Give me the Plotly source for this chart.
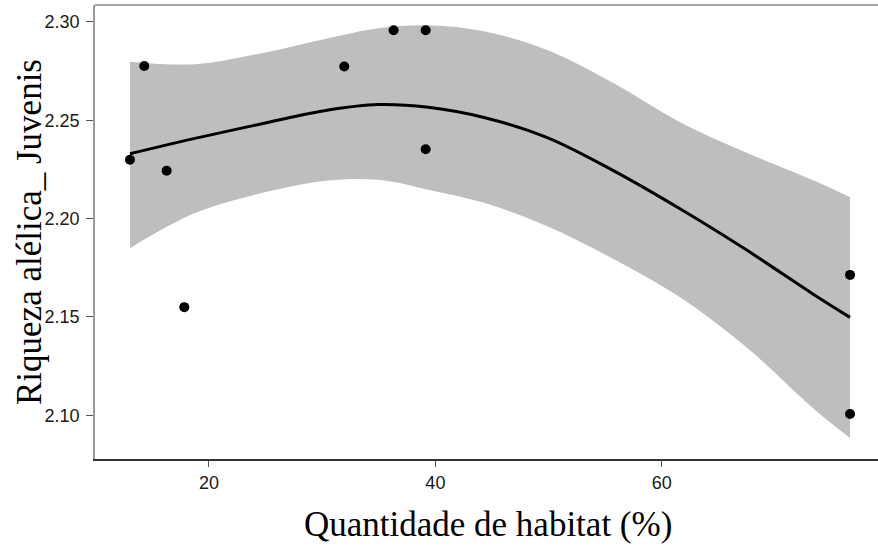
import plotly.graph_objects as go

# Observed points
habitat = [13.02, 14.28, 16.26, 17.82, 31.95, 36.31, 39.14, 39.14, 76.63, 76.63]
riqueza = [2.2299, 2.2776, 2.2244, 2.1550, 2.2773, 2.2958, 2.2958, 2.2353, 2.1714, 2.1007]

# Smoothed fit and confidence band
fit_x = [13.02, 18.76, 24.66, 30.54, 34.96, 39.37, 44.38, 49.83, 55.72, 61.61, 67.50, 73.38, 76.63]
fit_y = [2.2330, 2.2408, 2.2482, 2.2552, 2.2580, 2.2566, 2.2513, 2.2413, 2.2244, 2.2050, 2.1840, 2.1616, 2.1498]
band_upper = [2.2798, 2.2785, 2.2841, 2.2917, 2.2968, 2.2983, 2.2951, 2.2858, 2.2689, 2.2490, 2.2335, 2.2195, 2.2109]
band_lower = [2.1850, 2.2028, 2.2130, 2.2194, 2.2197, 2.2147, 2.2079, 2.1962, 2.1795, 2.1600, 2.1345, 2.1035, 2.0885]

y_ticks = [2.10, 2.15, 2.20, 2.25, 2.30]
x_ticks = [20, 40, 60]

x_title = "Quantidade de habitat (%)"
y_title = "Riqueza alélica_ Juvenis"

fig = go.Figure()

fig.add_trace(go.Scatter(x=fit_x, y=band_lower, mode="lines",
                         line=dict(width=0, shape="spline", color="rgba(0,0,0,0)"),
                         showlegend=False, hoverinfo="skip"))
fig.add_trace(go.Scatter(x=fit_x, y=band_upper, mode="lines",
                         line=dict(width=0, shape="spline", color="rgba(0,0,0,0)"),
                         fill="tonexty", fillcolor="rgb(190,190,190)",
                         showlegend=False, hoverinfo="skip"))
fig.add_trace(go.Scatter(x=fit_x, y=fit_y, mode="lines",
                         line=dict(width=3, shape="spline", color="black"),
                         showlegend=False))
fig.add_trace(go.Scatter(x=habitat, y=riqueza, mode="markers",
                         marker=dict(size=10, color="black"),
                         showlegend=False))

tick_font = dict(family="Liberation Sans, Arial, sans-serif", size=18, color="#1a1a1a")
title_font = dict(family="Liberation Serif, Times New Roman, serif", size=35, color="black")

fig.update_layout(
    width=878, height=546,
    margin=dict(l=95, r=0, t=5, b=87),
    paper_bgcolor="white", plot_bgcolor="white",
    xaxis=dict(range=[9.93, 79.10], tickvals=x_ticks, ticktext=[str(v) for v in x_ticks],
               showgrid=False, zeroline=False, showline=True, linecolor="#333333", linewidth=2,
               ticks="outside", ticklen=6, tickwidth=1.2, tickcolor="#555555",
               tickfont=tick_font, automargin=False),
    yaxis=dict(range=[2.0778, 2.3086], tickvals=y_ticks, ticktext=[f"{v:.2f}" for v in y_ticks],
               showgrid=False, zeroline=False, showline=True, linecolor="#999999", linewidth=1.5,
               ticks="outside", ticklen=7, tickwidth=1.2, tickcolor="#555555",
               ticklabelstandoff=3,
               tickfont=tick_font, automargin=False),
    shapes=[dict(type="line", xref="paper", yref="paper", x0=0, x1=1, y0=1, y1=1,
                 line=dict(color="#888888", width=1.5))],
    annotations=[
        dict(text=x_title, xref="paper", yref="paper", x=0.502, y=-0.145,
             xanchor="center", yanchor="middle", showarrow=False, font=title_font),
        dict(text=y_title, xref="paper", yref="paper", x=-0.0843, y=0.5,
             xanchor="center", yanchor="middle", textangle=-90, showarrow=False, font=title_font),
    ],
)

fig.write_html("out.html", config={"displayModeBar": False},
               post_script="document.body.style.margin='0';")
